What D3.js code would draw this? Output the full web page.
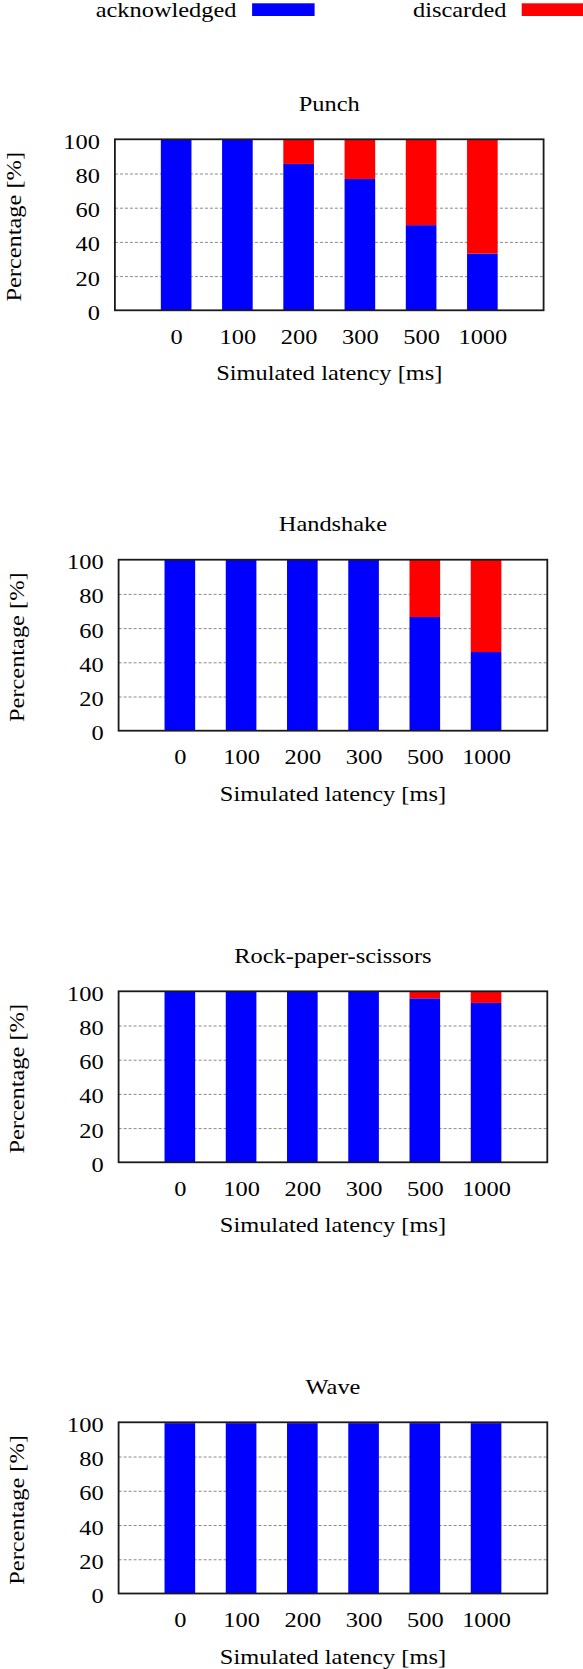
<!DOCTYPE html>
<html>
<head>
<meta charset="utf-8">
<script src="https://cdn.jsdelivr.net/npm/d3@7"></script>
<style>
  body { margin: 0; background: #fff; }
</style>
</head>
<body>
<svg id="chart" width="583" height="1669"></svg>
<script>
// data
const categories = ["0", "100", "200", "300", "500", "1000"];
const panelTitles = ["Punch", "Handshake", "Rock-paper-scissors", "Wave"];
const yTicks = [0, 20, 40, 60, 80, 100];
const gridTicks = [20, 40, 60, 80];

const punchAck = [100, 100, 85.6, 76.8, 49.8, 33.2];
const punchDisc = [0, 0, 14.4, 23.2, 50.2, 66.8];
const handshakeAck = [100, 100, 100, 100, 66.5, 46.0];
const handshakeDisc = [0, 0, 0, 0, 33.5, 54.0];
const rpsAck = [99.8, 99.8, 99.8, 99.8, 95.9, 93.2];
const rpsDisc = [0.2, 0.2, 0.2, 0.2, 4.1, 6.8];
const waveAck = [99.5, 99.5, 99.5, 99.5, 99.5, 99.5];
const waveDisc = [0.5, 0.5, 0.5, 0.5, 0.5, 0.5];

const seriesNames = ["acknowledged", "discarded"];
const seriesColors = ["#0000ff", "#ff0000"];

const panels = [
  { title: panelTitles[0], ack: punchAck, disc: punchDisc },
  { title: panelTitles[1], ack: handshakeAck, disc: handshakeDisc },
  { title: panelTitles[2], ack: rpsAck, disc: rpsDisc },
  { title: panelTitles[3], ack: waveAck, disc: waveDisc }
];

// frame boxes of each panel
const frames = [
  { left: 114.9, right: 543.6, top: 139.3, bottom: 310.3 },
  { left: 118.6, right: 547.3, top: 559.7, bottom: 730.7 },
  { left: 118.6, right: 547.3, top: 991.3, bottom: 1162.3 },
  { left: 118.6, right: 547.3, top: 1422.3, bottom: 1593.5 }
];

const FONT = "'Liberation Serif', 'Times New Roman', Tinos, 'Nimbus Roman', serif";
const FS = 20;      // font size
const SX = 1.22;    // the original font is drawn wider than normal

const svg = d3.select("#chart");

// text with a horizontal stretch
function label(parent, x, y, str, anchor, rotate) {
  const g = parent.append("g")
    .attr("transform", `translate(${x},${y})` + (rotate ? " rotate(-90)" : "") + ` scale(${SX},1)`);
  g.append("text")
    .attr("text-anchor", anchor || "middle")
    .style("font-family", FONT)
    .style("font-size", FS + "px")
    .attr("fill", "#000")
    .text(str);
  return g;
}

// legend
const legend = svg.append("g");
label(legend, 236.5, 17.3, seriesNames[0], "end");
legend.append("rect").attr("x", 252.1).attr("y", 3.3).attr("width", 62.5).attr("height", 12.7)
  .attr("fill", seriesColors[0]);
label(legend, 506.4, 17.3, seriesNames[1], "end");
legend.append("rect").attr("x", 521.7).attr("y", 3.3).attr("width", 62.5).attr("height", 12.7)
  .attr("fill", seriesColors[1]);

panels.forEach((p, k) => {
  const f = frames[k];
  const g = svg.append("g");

  const x = d3.scaleLinear().domain([-1, 6]).range([f.left, f.right]);
  const y = d3.scaleLinear().domain([0, 100]).range([f.bottom, f.top]);
  const bw = (x(1) - x(0)) * 0.5;

  // dashed grid
  const grid = g.append("g")
    .attr("transform", `translate(${f.left},0)`)
    .call(d3.axisLeft(y).tickValues(gridTicks).tickSize(-(f.right - f.left)).tickFormat(""));
  grid.select(".domain").remove();
  grid.selectAll("line")
    .attr("stroke", "#8a8a8a")
    .attr("stroke-width", 1)
    .attr("stroke-dasharray", "3,2");

  // stacked bars
  g.selectAll(".ack")
    .data(p.ack)
    .join("rect")
      .attr("class", "ack")
      .attr("x", (d, i) => x(i) - bw / 2)
      .attr("y", d => y(d))
      .attr("width", bw)
      .attr("height", d => y(0) - y(d))
      .attr("fill", seriesColors[0]);

  g.selectAll(".disc")
    .data(p.disc)
    .join("rect")
      .attr("class", "disc")
      .attr("x", (d, i) => x(i) - bw / 2)
      .attr("y", (d, i) => y(p.ack[i] + d))
      .attr("width", bw)
      .attr("height", (d, i) => y(p.ack[i]) - y(p.ack[i] + d))
      .attr("fill", seriesColors[1]);

  // frame
  g.append("rect")
    .attr("x", f.left).attr("y", f.top)
    .attr("width", f.right - f.left).attr("height", f.bottom - f.top)
    .attr("fill", "none")
    .attr("stroke", "#1a1a1a")
    .attr("stroke-width", 1.8);

  // y tick labels
  const ya = g.append("g")
    .attr("transform", `translate(${f.left},0)`)
    .call(d3.axisLeft(y).tickValues(yTicks).tickSize(0).tickPadding(12.3));
  ya.select(".domain").remove();
  ya.attr("font-family", FONT).attr("font-size", FS);
  ya.selectAll("text")
    .attr("dy", "0.45em")
    .attr("transform", `scale(${SX},1)`)
    .style("font-family", FONT)
    .style("font-size", FS + "px");

  // x tick labels
  const xa = g.append("g")
    .attr("transform", `translate(0,${f.bottom})`)
    .call(d3.axisBottom(x).tickValues(d3.range(categories.length))
      .tickFormat(i => categories[i]).tickSize(0).tickPadding(19.5));
  xa.select(".domain").remove();
  xa.attr("font-family", FONT).attr("font-size", FS);
  xa.selectAll("text")
    .attr("transform", `scale(${SX},1)`)
    .style("font-family", FONT)
    .style("font-size", FS + "px");

  const cx = (f.left + f.right) / 2;
  label(g, cx, f.top - 28.6, p.title, "middle");
  label(g, cx, f.bottom + 70, "Simulated latency [ms]", "middle");
  label(g, f.left - 94.2, (f.top + f.bottom) / 2 + 2, "Percentage [%]", "middle", true);
});
</script>
</body>
</html>
